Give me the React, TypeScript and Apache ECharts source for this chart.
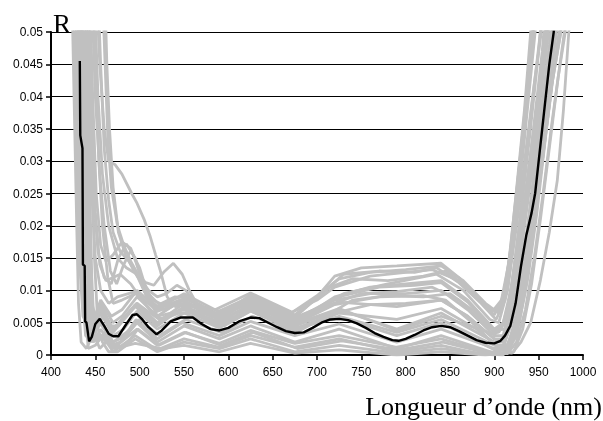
import React, { useEffect, useRef } from "react";
import * as echarts from "echarts";

// Axis ticks
const xTicks = { min: 400, max: 1000, step: 50 };
const yTicks = { min: 0, max: 0.05, step: 0.005 };

// Mean spectrum (black) [wavelength nm, R]
const meanCurve: number[][] = [
  [432.5, 0.0455], [433, 0.034], [435.5, 0.032], [436, 0.014], [438, 0.0138], [438.5, 0.0052],
  [440, 0.005], [443, 0.0021], [446, 0.0028], [450, 0.0048], [455, 0.0056], [460, 0.0045],
  [465, 0.0033], [470, 0.0029], [476, 0.0029], [485, 0.0048], [492, 0.0062], [497, 0.0063],
  [503, 0.0055], [510, 0.0043], [519, 0.0032], [525, 0.0038], [535, 0.0052], [546, 0.0058],
  [560, 0.0058], [570, 0.0048], [580, 0.004], [590, 0.0038], [600, 0.0042], [612, 0.0052],
  [625, 0.0058], [635, 0.0057], [645, 0.005], [655, 0.0043], [665, 0.0037], [675, 0.0034],
  [685, 0.0035], [695, 0.0042], [705, 0.005], [715, 0.0055], [725, 0.0056], [735, 0.0054],
  [745, 0.0049], [755, 0.0042], [765, 0.0034], [775, 0.0028], [785, 0.0023], [792, 0.0022],
  [800, 0.0025], [810, 0.0031], [820, 0.0038], [830, 0.0043], [840, 0.0045], [850, 0.0043],
  [860, 0.0037], [870, 0.003], [880, 0.0023], [890, 0.0019], [900, 0.0018], [907, 0.0022],
  [912, 0.003], [918, 0.0045], [924, 0.008], [930, 0.0137], [936, 0.0185], [942, 0.022],
  [946, 0.025], [950, 0.03], [954, 0.035], [958, 0.04], [962, 0.045], [967, 0.05], [969, 0.055],
];

// Individual spectra (grey) [wavelength nm, R]
const g01 = [[423,0.06],[426,0.04],[429,0.02],[431,0.008],[434,0.002],[440,0.001],[450,0.004],[458,0.005],[470,0.002],[485,0.003],[497,0.005],[520,0.002],[550,0.0045],[590,0.0025],[625,0.0045],[675,0.002],[725,0.004],[790,0.001],[840,0.003],[900,0.0003],[910,0.001],[920,0.006],[930,0.016],[940,0.028],[950,0.04],[958,0.05],[962,0.056]];
const g02 = [[425,0.06],[429,0.035],[432,0.015],[436,0.006],[445,0.004],[455,0.007],[470,0.004],[497,0.008],[520,0.005],[550,0.008],[590,0.006],[625,0.0093],[675,0.0062],[700,0.009],[720,0.0122],[750,0.0135],[790,0.0138],[840,0.0142],[860,0.012],[880,0.009],[900,0.0062],[910,0.009],[918,0.016],[926,0.027],[934,0.038],[941,0.05],[945,0.056]];
const g03 = [[427,0.06],[431,0.03],[434,0.012],[438,0.005],[446,0.003],[456,0.0065],[470,0.0035],[495,0.0075],[520,0.0045],[550,0.0075],[590,0.0055],[625,0.0088],[675,0.0058],[705,0.0095],[730,0.0125],[770,0.013],[810,0.0128],[835,0.0135],[860,0.0112],[885,0.008],[902,0.0055],[912,0.0085],[920,0.016],[930,0.028],[938,0.039],[946,0.05],[950,0.056]];
const g04 = [[430,0.06],[434,0.03],[438,0.01],[442,0.004],[450,0.005],[457,0.0075],[470,0.004],[497,0.008],[522,0.0055],[550,0.0072],[590,0.005],[625,0.008],[675,0.005],[720,0.009],[760,0.0105],[800,0.011],[840,0.0115],[870,0.0085],[900,0.004],[910,0.005],[920,0.011],[930,0.022],[940,0.034],[950,0.047],[953,0.052]];
const g05 = [[431,0.06],[435,0.03],[438,0.008],[442,0.001],[450,0.0015],[458,0.003],[470,0.0005],[495,0.003],[520,0.0008],[550,0.0025],[590,0.0012],[625,0.003],[675,0.0012],[725,0.0025],[790,0.0005],[840,0.0015],[880,0.0003],[910,0],[920,0.002],[930,0.009],[940,0.019],[950,0.03],[960,0.042],[968,0.05],[972,0.055]];
const g06 = [[440,0.06],[444,0.04],[448,0.025],[453,0.016],[460,0.012],[468,0.011],[476,0.015],[485,0.0172],[495,0.015],[505,0.01],[515,0.0075],[530,0.007],[550,0.0085],[580,0.006],[625,0.0085],[675,0.0055],[720,0.0085],[760,0.0095],[800,0.0095],[840,0.01],[870,0.007],[900,0.003],[910,0.003],[920,0.009],[930,0.019],[940,0.03],[950,0.041],[958,0.05],[962,0.055]];
const g07 = [[445,0.06],[450,0.04],[455,0.028],[460,0.02],[467,0.013],[474,0.011],[482,0.014],[490,0.0162],[500,0.0135],[510,0.009],[520,0.006],[535,0.0065],[550,0.007],[590,0.0045],[625,0.007],[675,0.0045],[725,0.007],[790,0.004],[840,0.0065],[900,0.002],[912,0.002],[922,0.006],[932,0.014],[942,0.025],[952,0.037],[962,0.048],[965,0.052]];
const g08 = [[450,0.06],[455,0.045],[460,0.035],[465,0.03],[472,0.0295],[480,0.028],[491,0.025],[497,0.0235],[505,0.021],[512,0.0183],[518,0.0155],[523,0.0132],[531,0.009],[540,0.0075],[555,0.0078],[590,0.0055],[625,0.0075],[675,0.004],[725,0.006],[790,0.0035],[840,0.0055],[900,0.0015],[915,0.0015],[925,0.006],[935,0.015],[945,0.026],[955,0.038],[965,0.05],[968,0.055]];
const g09 = [[448,0.06],[453,0.04],[458,0.028],[465,0.02],[475,0.015],[485,0.0135],[497,0.0125],[507,0.0112],[516,0.0108],[527,0.0128],[538,0.0142],[548,0.0125],[556,0.01],[565,0.0078],[590,0.0052],[625,0.0078],[675,0.0048],[720,0.0078],[770,0.009],[820,0.0092],[845,0.0085],[875,0.005],[905,0.001],[915,0.001],[925,0.004],[935,0.011],[945,0.02],[955,0.031],[965,0.042],[975,0.05],[980,0.055]];
const g10 = [[436,0.06],[440,0.03],[443,0.01],[447,0.002],[455,0.003],[470,0.001],[497,0.004],[520,0.0015],[550,0.0035],[590,0.0018],[625,0.0038],[675,0.0018],[725,0.003],[790,0.0012],[840,0.0025],[890,0.0005],[920,0.0003],[930,0.002],[941,0.005],[952,0.0116],[962,0.019],[971,0.027],[978,0.038],[984,0.05],[987,0.056]];
const g11 = [[433,0.06],[436,0.035],[439,0.012],[442,0.006],[447,0.004],[456,0.0072],[468,0.0045],[476,0.0045],[495,0.0078],[519,0.0048],[548,0.0072],[588,0.0052],[625,0.0075],[675,0.0048],[725,0.0072],[790,0.0038],[840,0.006],[900,0.0032],[908,0.004],[916,0.008],[924,0.015],[932,0.022],[942,0.032],[950,0.04],[958,0.05],[962,0.055]];
const g12 = [[438,0.06],[442,0.04],[446,0.025],[450,0.015],[456,0.01],[465,0.008],[475,0.009],[495,0.0098],[518,0.007],[545,0.0085],[585,0.0065],[625,0.009],[670,0.0065],[700,0.0085],[720,0.0105],[760,0.0122],[800,0.0128],[830,0.0132],[855,0.0118],[880,0.0092],[898,0.0068],[908,0.0085],[916,0.014],[924,0.024],[932,0.034],[940,0.045],[944,0.05],[947,0.055]];
const g13 = [[443,0.06],[447,0.04],[451,0.025],[456,0.017],[462,0.0145],[470,0.0155],[480,0.0175],[490,0.0165],[500,0.0128],[510,0.0095],[522,0.0078],[540,0.009],[555,0.0088],[585,0.0065],[625,0.0085],[675,0.0055],[730,0.0095],[780,0.011],[835,0.0125],[865,0.01],[895,0.0055],[905,0.005],[915,0.01],[925,0.02],[935,0.031],[945,0.042],[953,0.05],[957,0.055]];
const g14 = [[441,0.06],[445,0.035],[449,0.015],[453,0.004],[458,0.002],[465,0.0005],[475,0.0005],[495,0.0025],[520,0.0005],[550,0.002],[590,0.001],[625,0.0025],[675,0.0005],[725,0.0015],[790,0.0003],[840,0.001],[900,0],[915,0.0005],[925,0.003],[935,0.01],[945,0.02],[955,0.031],[965,0.042],[975,0.05],[979,0.055]];
const g15 = [[457,0.06],[461,0.045],[464,0.034],[468,0.026],[475,0.02],[482,0.017],[490,0.0145],[500,0.012],[510,0.01],[520,0.009],[530,0.0095],[542,0.0108],[552,0.01],[565,0.0075],[590,0.0058],[625,0.0082],[675,0.0052],[725,0.0082],[790,0.0075],[840,0.0085],[870,0.006],[900,0.0025],[910,0.002],[920,0.005],[930,0.012],[940,0.022],[950,0.033],[960,0.044],[966,0.05],[970,0.055]];
const g16 = [[432,0.06],[436,0.04],[440,0.02],[444,0.009],[450,0.006],[457,0.008],[470,0.005],[480,0.006],[497,0.009],[520,0.006],[550,0.0088],[590,0.0062],[625,0.0092],[675,0.006],[715,0.0105],[740,0.0118],[780,0.0115],[820,0.0122],[845,0.013],[870,0.0105],[895,0.007],[905,0.0068],[913,0.011],[920,0.018],[928,0.029],[936,0.04],[943,0.05],[946,0.055]];
const g17 = [[452,0.06],[456,0.045],[460,0.032],[465,0.024],[470,0.019],[478,0.016],[488,0.0145],[498,0.012],[508,0.009],[520,0.0075],[535,0.0085],[550,0.0092],[570,0.0075],[600,0.0065],[625,0.0088],[650,0.0075],[675,0.0058],[700,0.0072],[730,0.0092],[770,0.0105],[810,0.0108],[840,0.0112],[870,0.0082],[900,0.0038],[912,0.004],[922,0.01],[932,0.02],[942,0.031],[952,0.042],[960,0.05],[964,0.055]];
const g18 = [[460,0.06],[463,0.045],[466,0.035],[470,0.026],[476,0.019],[484,0.0155],[494,0.013],[505,0.0105],[515,0.0085],[530,0.0075],[548,0.008],[570,0.006],[595,0.0045],[625,0.0068],[675,0.0038],[725,0.0065],[790,0.0055],[840,0.0072],[880,0.004],[905,0.0012],[918,0.0012],[928,0.005],[938,0.012],[948,0.022],[958,0.034],[968,0.045],[973,0.05],[976,0.055]];
const g19 = [[439,0.06],[443,0.03],[446,0.012],[449,0.003],[455,0.001],[462,0.002],[472,0.001],[495,0.0018],[525,0.001],[550,0.0015],[590,0.0005],[625,0.0018],[675,0.0003],[725,0.0008],[790,0],[840,0.0005],[890,0],[922,0.0005],[932,0.004],[942,0.011],[952,0.021],[962,0.032],[972,0.043],[980,0.05],[983,0.055]];
const g20 = [[434,0.06],[437,0.035],[440,0.015],[443,0.004],[448,0.002],[456,0.004],[468,0.0015],[478,0.002],[496,0.0055],[520,0.0025],[548,0.005],[590,0.003],[625,0.0052],[675,0.003],[725,0.0048],[790,0.002],[840,0.004],[900,0.001],[910,0.0015],[918,0.005],[926,0.012],[934,0.02],[944,0.03],[952,0.04],[961,0.05],[964,0.055]];
const g21 = [[446,0.06],[450,0.045],[454,0.03],[458,0.02],[464,0.012],[470,0.008],[480,0.0085],[496,0.0095],[515,0.0065],[540,0.0078],[560,0.0075],[590,0.0055],[625,0.0085],[675,0.0055],[715,0.0078],[750,0.0095],[790,0.0098],[830,0.0105],[860,0.0085],[890,0.0045],[905,0.0035],[915,0.006],[925,0.013],[935,0.024],[945,0.036],[954,0.047],[957,0.052]];
const g22 = [[429,0.06],[433,0.04],[436,0.02],[440,0.008],[447,0.005],[456,0.0085],[468,0.006],[480,0.007],[497,0.01],[520,0.0072],[550,0.0095],[585,0.007],[625,0.0096],[672,0.0066],[700,0.0092],[725,0.0118],[760,0.0128],[800,0.0132],[840,0.0138],[865,0.0115],[890,0.008],[905,0.0065],[915,0.0105],[922,0.018],[930,0.03],[938,0.042],[944,0.05],[947,0.055]];
const g23 = [[437,0.06],[441,0.035],[444,0.015],[447,0.005],[452,0.002],[460,0.0035],[472,0.0012],[484,0.0015],[498,0.004],[522,0.0015],[552,0.0035],[592,0.0015],[628,0.0035],[678,0.001],[728,0.0022],[792,0.0008],[842,0.002],[895,0.0002],[915,0.0002],[925,0.002],[935,0.007],[945,0.015],[955,0.025],[965,0.036],[975,0.046],[979,0.05],[982,0.055]];
const g24 = [[442,0.06],[446,0.04],[450,0.022],[455,0.014],[462,0.0115],[470,0.012],[478,0.0125],[490,0.011],[500,0.009],[512,0.007],[525,0.0055],[545,0.0065],[565,0.0065],[590,0.0048],[625,0.0072],[675,0.0042],[725,0.0058],[790,0.003],[840,0.005],[900,0.0008],[912,0.0008],[922,0.004],[932,0.01],[942,0.019],[952,0.03],[962,0.041],[970,0.05],[974,0.055]];
const g25 = [[435,0.06],[438,0.03],[441,0.012],[445,0.005],[452,0.004],[458,0.006],[470,0.003],[482,0.004],[497,0.0068],[520,0.004],[550,0.0065],[590,0.0042],[625,0.0068],[675,0.004],[720,0.0065],[760,0.0078],[800,0.008],[840,0.0085],[870,0.006],[900,0.0025],[910,0.0025],[920,0.007],[930,0.016],[940,0.027],[950,0.038],[960,0.049],[962,0.052]];
const g26 = [[428,0.06],[432,0.03],[435,0.01],[439,0.003],[446,0.002],[455,0.005],[470,0.002],[490,0.004],[500,0.0055],[522,0.003],[552,0.0055],[592,0.0035],[627,0.006],[677,0.0035],[710,0.006],[740,0.0085],[780,0.0092],[820,0.009],[850,0.0095],[875,0.007],[900,0.0035],[912,0.005],[920,0.011],[928,0.02],[936,0.031],[946,0.043],[952,0.05],[955,0.055]];

const greyCurves = [g01, g02, g03, g04, g05, g06, g07, g08, g09, g10, g11, g12, g13, g14, g15, g16, g17, g18, g19, g20, g21, g22, g23, g24, g25, g26];

const yLabel = "R";
const xLabel = "Longueur d\u2019onde (nm)";

export default function App() {
  const ref = useRef<HTMLDivElement>(null);
  useEffect(() => {
    if (!ref.current) return;
    const chart = echarts.init(ref.current, undefined, { renderer: "svg" });
    const sans = "'Liberation Sans', Arial, sans-serif";
    const serif = "'Liberation Serif', 'Times New Roman', serif";
    const series: any[] = greyCurves.map((c, i) => ({
      name: "s" + i,
      type: "line",
      data: c,
      showSymbol: false,
      symbol: "none",
      lineStyle: { color: "#c0c0c0", width: 2.8 },
      z: 2,
      silent: true,
    }));
    series.push({
      name: "mean",
      type: "line",
      data: meanCurve,
      showSymbol: false,
      symbol: "none",
      lineStyle: { color: "#000000", width: 2.4 },
      z: 3,
      silent: true,
    });
    chart.setOption({
      animation: false,
      grid: { left: 51, right: 20, top: 32, bottom: 66, containLabel: false },
      xAxis: {
        type: "value",
        min: xTicks.min,
        max: xTicks.max,
        interval: xTicks.step,
        axisLine: { show: true, onZero: false, lineStyle: { color: "#000", width: 2 } },
        axisTick: { show: true, inside: false, length: 5, lineStyle: { color: "#000", width: 1.5 } },
        axisLabel: {
          color: "#000",
          fontFamily: sans,
          fontSize: 12,
          margin: 11,
          formatter: (v: number) => String(v),
        },
        splitLine: { show: false },
      },
      yAxis: {
        type: "value",
        min: yTicks.min,
        max: yTicks.max,
        interval: yTicks.step,
        axisLine: { show: true, lineStyle: { color: "#000", width: 2 } },
        axisTick: { show: true, inside: false, length: 5, lineStyle: { color: "#000", width: 1.5 } },
        axisLabel: {
          color: "#000",
          fontFamily: sans,
          fontSize: 12,
          margin: 8,
          formatter: (v: number) => String(parseFloat(v.toFixed(3))),
        },
        splitLine: { show: true, lineStyle: { color: "#000", width: 1.2 } },
      },
      graphic: [
        {
          type: "text",
          x: 53,
          y: 23.5,
          style: { text: yLabel, font: "27px " + serif, fill: "#000", align: "left", verticalAlign: "middle" },
        },
        {
          type: "text",
          x: 602,
          y: 406,
          style: { text: xLabel, font: "26px " + serif, fill: "#000", align: "right", verticalAlign: "middle" },
        },
      ],
      series,
    });
    return () => chart.dispose();
  }, []);
  return (
    <div
      ref={ref}
      style={{ position: "fixed", left: 0, top: 0, width: 603, height: 421, overflow: "hidden" }}
    />
  );
}
